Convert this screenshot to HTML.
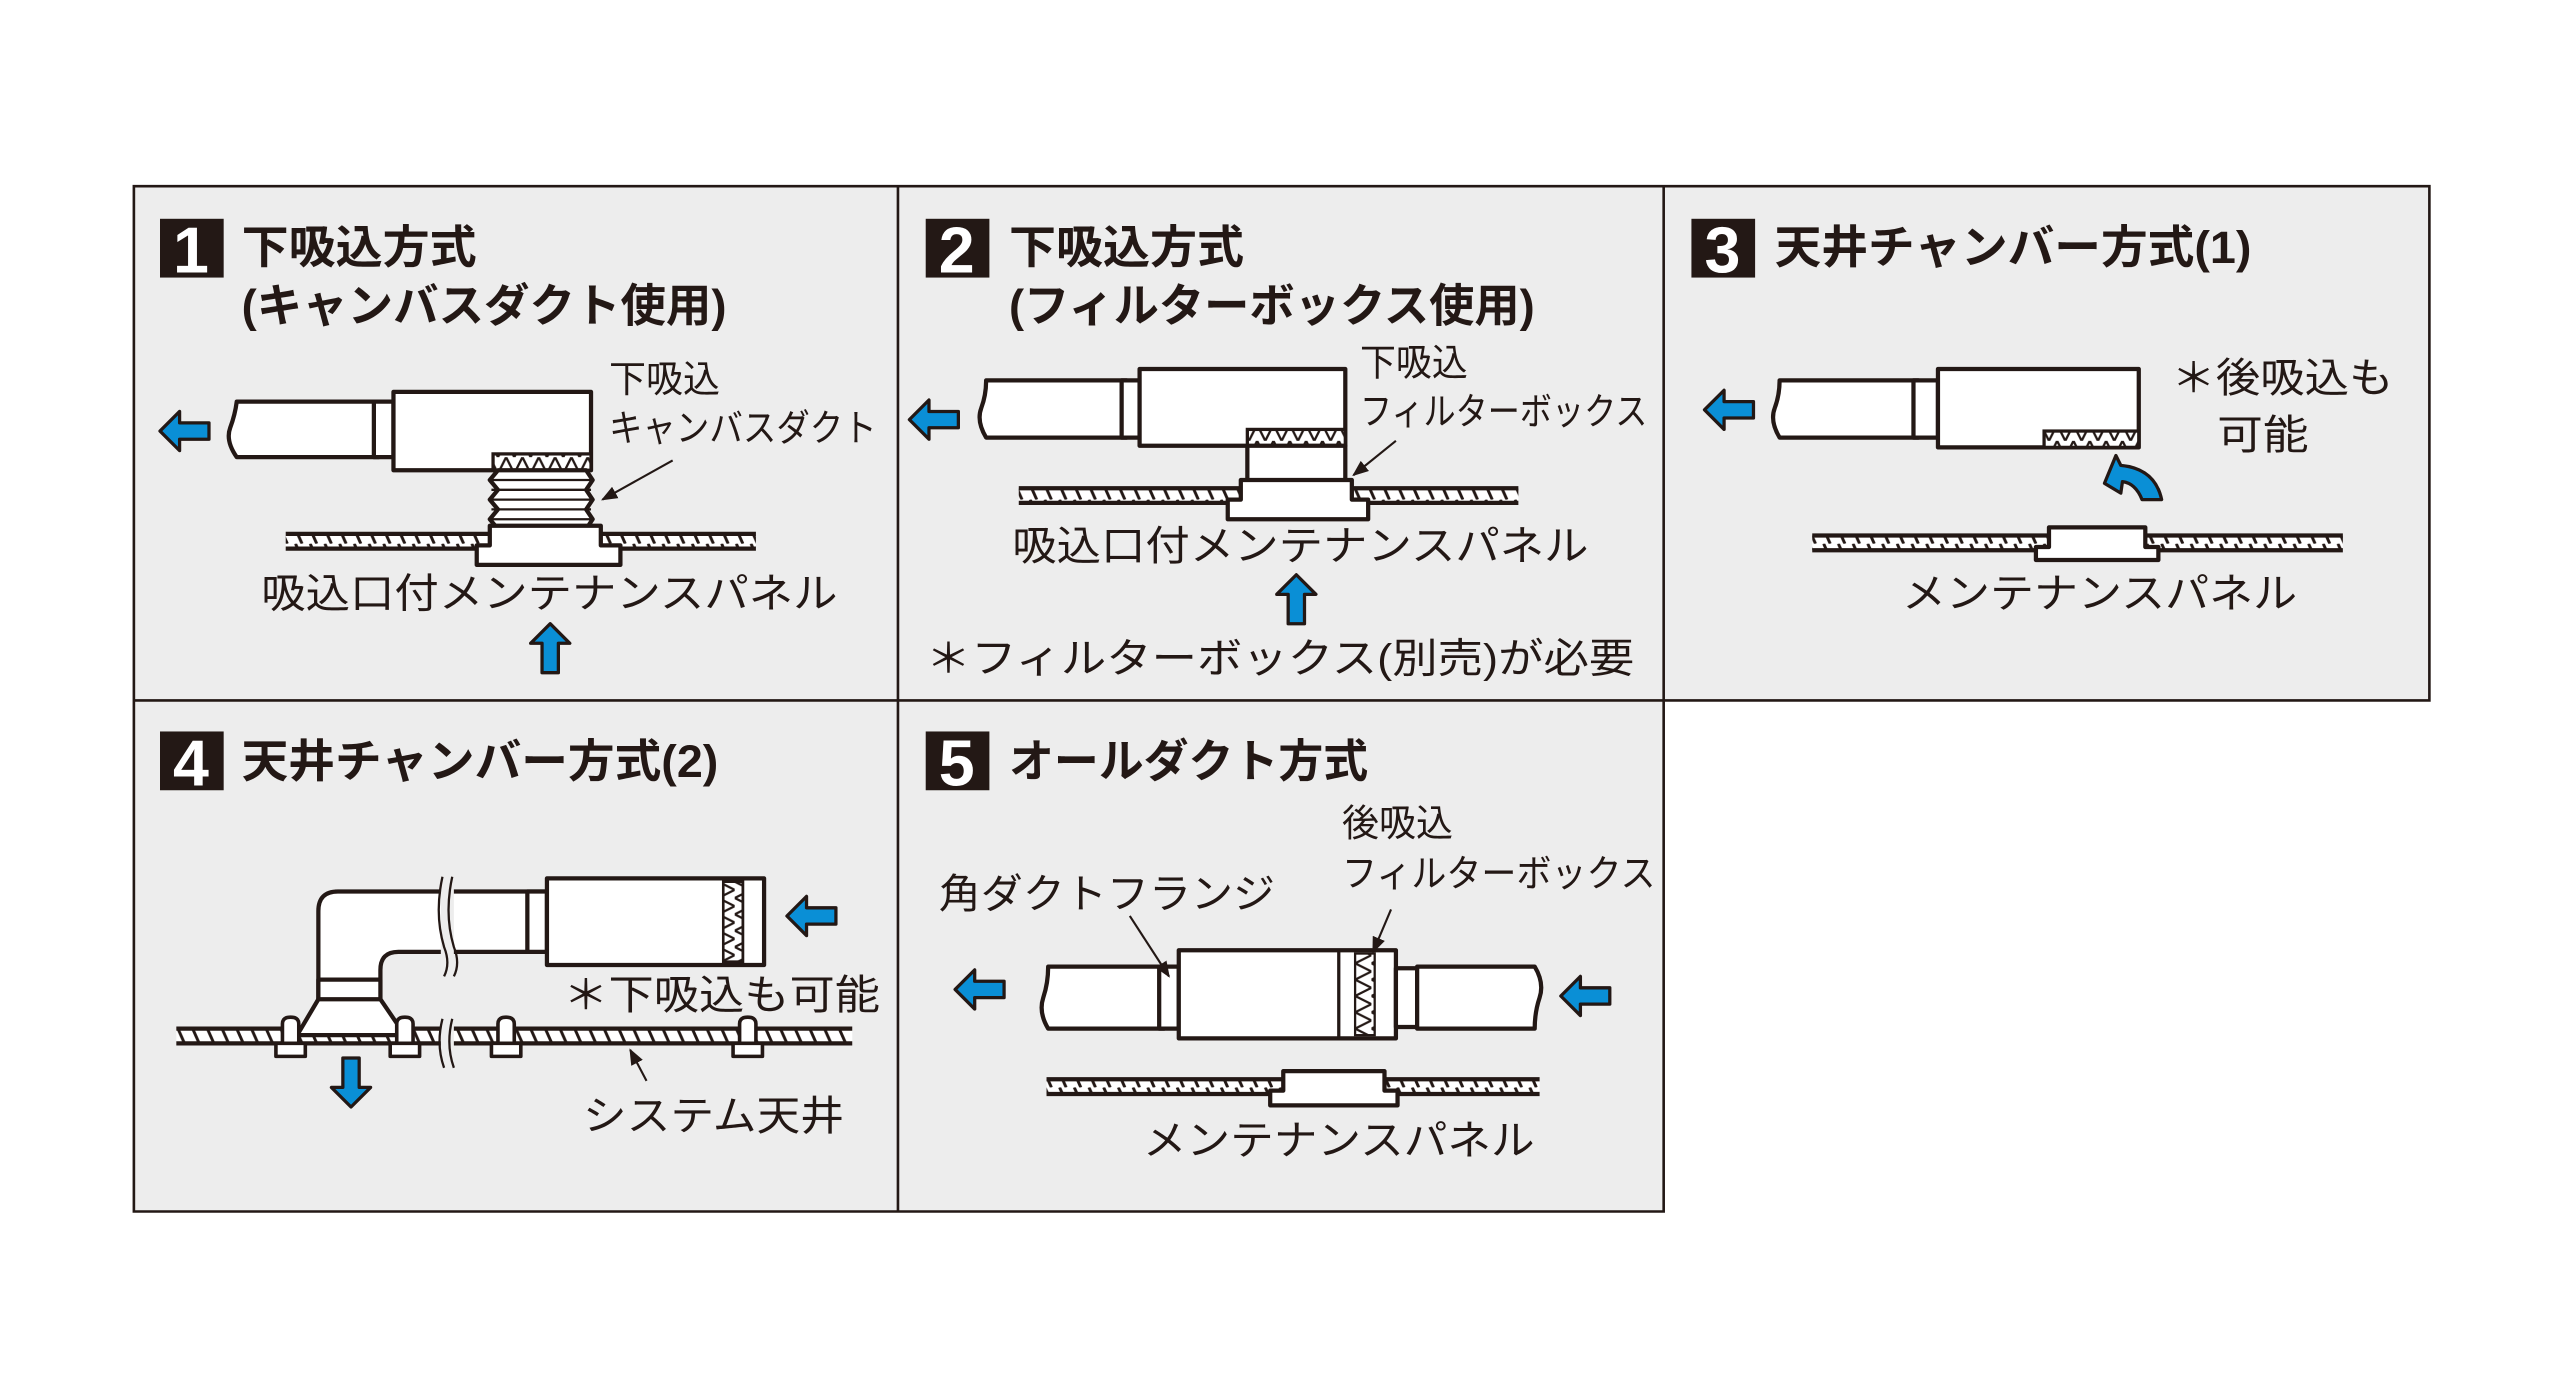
<!DOCTYPE html>
<html><head><meta charset="utf-8"><style>
html,body{margin:0;padding:0;background:#fff;}
svg{display:block;}
text{font-family:"Liberation Sans","Noto Sans CJK JP",sans-serif;fill:#231815;}
.t{font-weight:700;font-size:28px;}
.l{font-size:25px;}
.s{font-size:23px;}
.n{font-weight:700;font-size:40px;fill:#fff;font-family:"Liberation Sans",sans-serif;}
.k{fill:#fff;stroke:#231815;stroke-width:2.6;stroke-linejoin:round;}
.ar{fill:#0a8fd6;stroke:#231815;stroke-width:2;stroke-linejoin:round;}
</style></head><body>
<svg width="2560" height="1396" viewBox="0 0 1568 855" preserveAspectRatio="none" xmlns="http://www.w3.org/2000/svg">
<defs>
<pattern id="h" patternUnits="userSpaceOnUse" width="9" height="9">
<rect width="9" height="9" fill="#fff"/>
<line x1="1" y1="0" x2="5" y2="9" stroke="#231815" stroke-width="1.8"/>
</pattern>
<pattern id="z" patternUnits="userSpaceOnUse" width="10" height="10">
<rect width="10" height="10" fill="#fff"/>
<path d="M0,0 L5,10 L10,0" fill="none" stroke="#231815" stroke-width="1.4"/>
</pattern>
<pattern id="zv" patternUnits="userSpaceOnUse" width="10" height="10">
<rect width="10" height="10" fill="#fff"/>
<path d="M0,0 L10,5 L0,10" fill="none" stroke="#231815" stroke-width="1.4"/>
</pattern>
<path id="arr" d="M0,12 L12,0 L12,7 L30,7 L30,17 L12,17 L12,24 Z"/>
<g id="tb"><path d="M-9,639 H9 V647 H-9 Z M-5,640 V627 Q-5,623 0,623 Q5,623 5,627 V640" fill="#fff" stroke="#231815" stroke-width="2.2" stroke-linejoin="round"/></g>
<marker id="mk" markerWidth="10" markerHeight="8" refX="9" refY="4" orient="auto" markerUnits="userSpaceOnUse"><path d="M0,0 L10,4 L0,8 Z" fill="#231815"/></marker>
</defs>
<rect x="0" y="0" width="1568" height="855" fill="#fff"/>
<rect x="82" y="114" width="1406" height="315" fill="#ededed"/>
<rect x="82" y="429" width="937" height="313" fill="#ededed"/>
<path d="M82,114 H1488 V429 H82 Z M82,429 V742 H1019 V114 M550,114 V742" fill="none" stroke="#231815" stroke-width="1.6"/>

<!-- Panel 1 -->
<rect x="98" y="134" width="39" height="36" fill="#231815"/>
<text class="n" x="106" y="167" textLength="22" lengthAdjust="spacingAndGlyphs">1</text>
<text class="t" x="148" y="161" textLength="144" lengthAdjust="spacingAndGlyphs">下吸込方式</text>
<text class="t" x="148" y="197" textLength="297" lengthAdjust="spacingAndGlyphs">(キャンバスダクト使用)</text>
<path class="k" d="M145,246 H232 V280 H145 Q138,270 141,262 Q144,254 145,246 Z"/>
<rect class="k" x="229" y="246" width="12" height="34"/>
<rect class="k" x="241" y="240" width="121" height="48"/>
<rect x="302" y="278" width="60" height="10" fill="url(#z)" stroke="#231815" stroke-width="2"/>
<path class="k" d="M305,288 H359 L363,294 L359,300 L363,306 L359,312 L363,318 L359,324 L305,324 L300,318 L305,312 L300,306 L305,300 L300,294 Z"/>
<path d="M301,294 H362 M301,300 H362 M301,306 H362 M301,312 H362 M301,318 H362" stroke="#231815" stroke-width="1.4"/>
<rect x="175" y="327" width="288" height="9" fill="url(#h)"/>
<path d="M175,327 H463 M175,336 H463" stroke="#231815" stroke-width="2.6"/>
<path class="k" d="M292,334 H300 V322 H368 V334 H380 V346 H292 Z"/>
<use href="#arr" class="ar" transform="translate(98,252)"/>
<use href="#arr" class="ar" transform="translate(349,382) rotate(90)"/>
<text class="s" x="373" y="240" textLength="68" lengthAdjust="spacingAndGlyphs">下吸込</text>
<text class="s" x="373" y="270" textLength="164" lengthAdjust="spacingAndGlyphs">キャンバスダクト</text>
<line x1="412" y1="282" x2="369" y2="306" stroke="#231815" stroke-width="1.3" marker-end="url(#mk)"/>
<text class="l" x="160" y="372" textLength="353" lengthAdjust="spacingAndGlyphs">吸込口付メンテナンスパネル</text>

<!-- Panel 2 -->
<rect x="567" y="134" width="39" height="36" fill="#231815"/>
<text class="n" x="575" y="167" textLength="22" lengthAdjust="spacingAndGlyphs">2</text>
<text class="t" x="618" y="161" textLength="144" lengthAdjust="spacingAndGlyphs">下吸込方式</text>
<text class="t" x="618" y="197" textLength="322" lengthAdjust="spacingAndGlyphs">(フィルターボックス使用)</text>
<path class="k" d="M604,233 H690 V268 H604 Q598,258 601,250 Q604,242 604,233 Z"/>
<rect class="k" x="687" y="233" width="11" height="35"/>
<rect class="k" x="698" y="226" width="126" height="47"/>
<rect x="764" y="263" width="60" height="10" fill="url(#z)" stroke="#231815" stroke-width="2"/>
<rect class="k" x="764" y="273" width="60" height="23"/>
<rect x="624" y="299" width="306" height="9" fill="url(#h)"/>
<path d="M624,299 H930 M624,308 H930" stroke="#231815" stroke-width="2.6"/>
<path class="k" d="M752,306 H760 V294 H828 V306 H838 V318 H752 Z"/>
<use href="#arr" class="ar" transform="translate(557,245)"/>
<use href="#arr" class="ar" transform="translate(806,352) rotate(90)"/>
<text class="s" x="833" y="230" textLength="66" lengthAdjust="spacingAndGlyphs">下吸込</text>
<text class="s" x="833" y="260" textLength="176" lengthAdjust="spacingAndGlyphs">フィルターボックス</text>
<line x1="855" y1="270" x2="829" y2="291" stroke="#231815" stroke-width="1.3" marker-end="url(#mk)"/>
<text class="l" x="620" y="343" textLength="353" lengthAdjust="spacingAndGlyphs">吸込口付メンテナンスパネル</text>
<text class="l" x="567" y="412" textLength="434" lengthAdjust="spacingAndGlyphs">＊フィルターボックス(別売)が必要</text>

<!-- Panel 3 -->
<rect x="1036" y="134" width="39" height="36" fill="#231815"/>
<text class="n" x="1044" y="167" textLength="22" lengthAdjust="spacingAndGlyphs">3</text>
<text class="t" x="1087" y="161" textLength="292" lengthAdjust="spacingAndGlyphs">天井チャンバー方式(1)</text>
<path class="k" d="M1090,233 H1175 V268 H1090 Q1084,258 1087,250 Q1090,242 1090,233 Z"/>
<rect class="k" x="1172" y="233" width="15" height="35"/>
<rect class="k" x="1187" y="226" width="123" height="48"/>
<rect x="1252" y="264" width="58" height="10" fill="url(#z)" stroke="#231815" stroke-width="2"/>
<use href="#arr" class="ar" transform="translate(1044,239)"/>
<path class="ar" d="M1289,296 L1296,279 L1299,285 Q1320,287 1324,306 L1312,306 Q1308,296 1300,295 L1299,302 Z"/>
<text class="l" x="1330" y="240" textLength="136" lengthAdjust="spacingAndGlyphs">＊後吸込も</text>
<text class="l" x="1358" y="275" textLength="56" lengthAdjust="spacingAndGlyphs">可能</text>
<rect x="1110" y="328" width="325" height="9" fill="url(#h)"/>
<path d="M1110,328 H1435 M1110,337 H1435" stroke="#231815" stroke-width="2.6"/>
<path class="k" d="M1247,335 H1255 V323 H1314 V335 H1322 V343 H1247 Z"/>
<text class="l" x="1165" y="372" textLength="242" lengthAdjust="spacingAndGlyphs">メンテナンスパネル</text>

<!-- Panel 4 -->
<rect x="98" y="448" width="39" height="36" fill="#231815"/>
<text class="n" x="106" y="481" textLength="22" lengthAdjust="spacingAndGlyphs">4</text>
<text class="t" x="148" y="476" textLength="292" lengthAdjust="spacingAndGlyphs">天井チャンバー方式(2)</text>
<path class="k" d="M195,612 V558 Q195,546 207,546 H335 V583 H244 Q233,583 233,594 V612 Z"/>
<rect class="k" x="323" y="546" width="12" height="37"/>
<rect class="k" x="195" y="600" width="38" height="13"/>
<rect class="k" x="335" y="538" width="133" height="53"/>
<rect x="443" y="540" width="12" height="49" fill="url(#zv)" stroke="#231815" stroke-width="1.6"/>
<line x1="455" y1="539" x2="455" y2="590" stroke="#231815" stroke-width="1.6"/>
<rect x="108" y="630" width="414" height="9" fill="url(#h)"/>
<path d="M108,630 H522 M108,639 H522" stroke="#231815" stroke-width="2.6"/>
<path class="k" d="M195,612 H233 L248,634 H182 Z"/>
<use href="#tb" transform="translate(178,0)"/>
<use href="#tb" transform="translate(248,0)"/>
<use href="#tb" transform="translate(310,0)"/>
<use href="#tb" transform="translate(458,0)"/>
<rect x="270" y="536" width="8" height="62" fill="#ededed"/>
<rect x="270" y="624" width="8" height="30" fill="#ededed"/>
<path d="M271,537 Q266,560 272,580 Q276,590 272,598 M277,537 Q272,560 278,580 Q282,590 278,598 M271,624 Q267,640 272,654 M277,624 Q273,640 278,654" fill="none" stroke="#231815" stroke-width="1.4"/>
<use href="#arr" class="ar" transform="translate(482,549)"/>
<use href="#arr" class="ar" transform="translate(203,678) rotate(-90)"/>
<text class="l" x="345" y="618" textLength="194" lengthAdjust="spacingAndGlyphs">＊下吸込も可能</text>
<line x1="396" y1="662" x2="386" y2="643" stroke="#231815" stroke-width="1.3" marker-end="url(#mk)"/>
<text class="l" x="357" y="692" textLength="160" lengthAdjust="spacingAndGlyphs">システム天井</text>

<!-- Panel 5 -->
<rect x="567" y="448" width="39" height="36" fill="#231815"/>
<text class="n" x="575" y="481" textLength="22" lengthAdjust="spacingAndGlyphs">5</text>
<text class="t" x="618" y="476" textLength="220" lengthAdjust="spacingAndGlyphs">オールダクト方式</text>
<text class="s" x="822" y="512" textLength="68" lengthAdjust="spacingAndGlyphs">後吸込</text>
<text class="s" x="822" y="543" textLength="192" lengthAdjust="spacingAndGlyphs">フィルターボックス</text>
<text class="l" x="575" y="556" textLength="206" lengthAdjust="spacingAndGlyphs">角ダクトフランジ</text>
<path class="k" d="M642,592 H713 V630 H642 Q636,620 639,611 Q642,602 642,592 Z"/>
<rect class="k" x="710" y="592" width="12" height="38"/>
<rect class="k" x="722" y="582" width="133" height="54"/>
<line x1="820" y1="582" x2="820" y2="636" stroke="#231815" stroke-width="2"/>
<rect x="830" y="584" width="12" height="50" fill="url(#zv)" stroke="#231815" stroke-width="1.4"/>
<rect class="k" x="855" y="593" width="13" height="36"/>
<path class="k" d="M868,592 H940 Q946,602 943,611 Q940,620 940,630 H868 Z"/>
<use href="#arr" class="ar" transform="translate(585,594)"/>
<use href="#arr" class="ar" transform="translate(956,598)"/>
<line x1="692" y1="561" x2="716" y2="598" stroke="#231815" stroke-width="1.3" marker-end="url(#mk)"/>
<line x1="852" y1="557" x2="841" y2="583" stroke="#231815" stroke-width="1.3" marker-end="url(#mk)"/>
<rect x="641" y="661" width="302" height="9" fill="url(#h)"/>
<path d="M641,661 H943 M641,670 H943" stroke="#231815" stroke-width="2.6"/>
<path class="k" d="M778,668 H786 V656 H848 V668 H856 V677 H778 Z"/>
<text class="l" x="700" y="707" textLength="240" lengthAdjust="spacingAndGlyphs">メンテナンスパネル</text>
</svg>
</body></html>
